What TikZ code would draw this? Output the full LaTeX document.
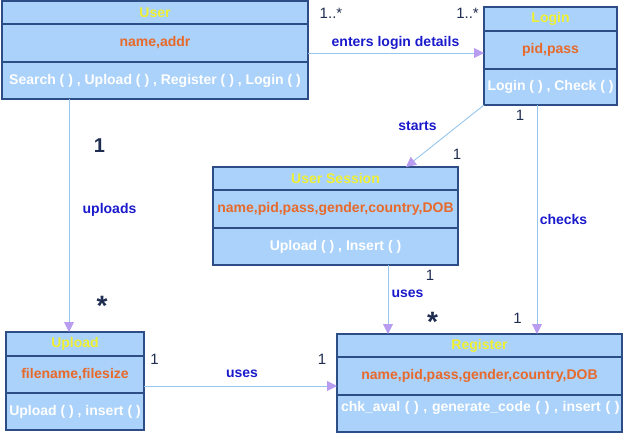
\documentclass[tikz,border=0pt]{standalone}
\usepackage{fontspec}
\setmainfont{Liberation Sans}
\usetikzlibrary{arrows.meta,positioning}
\definecolor{boxfill}{RGB}{170,210,250}
\definecolor{boxline}{RGB}{44,77,134}
\definecolor{titlecol}{RGB}{240,240,50}
\definecolor{attrcol}{RGB}{232,105,42}
\definecolor{lblcol}{RGB}{26,26,204}
\definecolor{multcol}{RGB}{31,45,80}
\definecolor{linkcol}{RGB}{150,198,238}
\definecolor{headcol}{RGB}{184,156,240}
\begin{document}
\begin{tikzpicture}[x=1pt, y=-1pt,
	every node/.style={font=\bfseries\fontsize{14}{16}\selectfont},
	part/.style 2 args={draw=boxline, fill=boxfill, line width=1.3pt, inner sep=0pt, outer sep=0pt, minimum width=#1, minimum height=#2},
	ttl/.style={text=titlecol},
	attr/.style={text=attrcol},
	meth/.style={text=white},
	lbl/.style={text=lblcol},
	mult/.style={text=multcol, font=\fontsize{15}{17}\selectfont, anchor=base},
	big/.style={text=multcol, font=\bfseries\fontsize{20}{22}\selectfont, anchor=base},
	star/.style={text=multcol, font=\bfseries\fontsize{28}{30}\selectfont, anchor=base},
	link/.style={draw=linkcol, line width=0.9pt, -{Triangle[length=10pt, width=10pt, color=headcol]}}]
	\useasboundingbox (0,0) rectangle (623,432);

	% classes
	\node[part={306}{23}, ttl] (ut) at (155,12.5) {User};
	\node[part={306}{38}, attr, below=0pt of ut] (ua) {name,addr};
	\node[part={306}{37}, meth, below=0pt of ua] (um) {Search ( ) , Upload ( ) , Register ( ) , Login ( )};

	\node[part={133}{24}, ttl] (lt) at (550.5,19) {Login};
	\node[part={133}{38}, attr, below=0pt of lt] (la) {pid,pass};
	\node[part={133}{36}, meth, below=0pt of la] (lm) {Login ( ) , Check ( )};

	\node[part={245}{23}, ttl] (st) at (335.5,178.5) {User Session};
	\node[part={245}{38}, attr, below=0pt of st] (sa) {name,pid,pass,gender,country,DOB};
	\node[part={245}{37}, meth, below=0pt of sa] (sm) {Upload ( ) , Insert ( )};

	\node[part={138}{24}, ttl] (pt) at (75,344) {Upload};
	\node[part={138}{37}, attr, below=0pt of pt] (pa) {filename,filesize};
	\node[part={138}{37}, meth, below=0pt of pa] (pm) {Upload ( ) , insert ( )};

	\node[part={285}{23}, ttl] (rt) at (479.5,345.5) {Register};
	\node[part={285}{38}, attr, below=0pt of rt] (ra) {name,pid,pass,gender,country,DOB};
	\node[part={285}{37}, meth, below=0pt of ra, text width=277pt, inner xsep=4pt, align=left, text depth=15pt] (rm) {\mbox{chk\_aval ( ) , generate\_code ( ) , insert ( )}};

	% links
	\draw[link] (ua.east |- 0,53) -- (la.west |- 0,53);
	\draw[link] (um.south -| 69,0) -- (pt.north -| 69,0);
	\draw[link] (lm.south west) -- (st.north -| 406,0);
	\draw[link] (lm.south -| 537,0) -- (rt.north -| 537,0);
	\draw[link] (sm.south -| 388,0) -- (rt.north -| 388,0);
	\draw[link] (pa.east |- 0,386) -- (ra.west |- 0,386);

	% labels
	\node[lbl] (enters) at (395.5,43) {enters login details};
	\node[lbl] (uploads) at (109.5,210) {uploads};
	\node[lbl] (starts) at (417.5,126) {starts};
	\node[lbl] (checks) at (563.5,219) {checks};
	\node[lbl] (uses1) at (407.5,294) {uses};
	\node[lbl] (uses2) at (242,374) {uses};

	% multiplicities
	\node[mult] (m1) at (331,18) {1..*};
	\node[mult] (m2) at (467.5,18) {1..*};
	\node[big] (m3) at (99.5,152) {1};
	\node[star] (m4) at (102,315) {*};
	\node[mult] (m5) at (520,120) {1};
	\node[mult] (m6) at (457,159) {1};
	\node[mult] (m7) at (430,280) {1};
	\node[star] (m8) at (432.5,331) {*};
	\node[mult] (m9) at (517.5,323) {1};
	\node[mult] (m10) at (154.5,364) {1};
	\node[mult] (m11) at (322,364) {1};
\end{tikzpicture}
\end{document}
